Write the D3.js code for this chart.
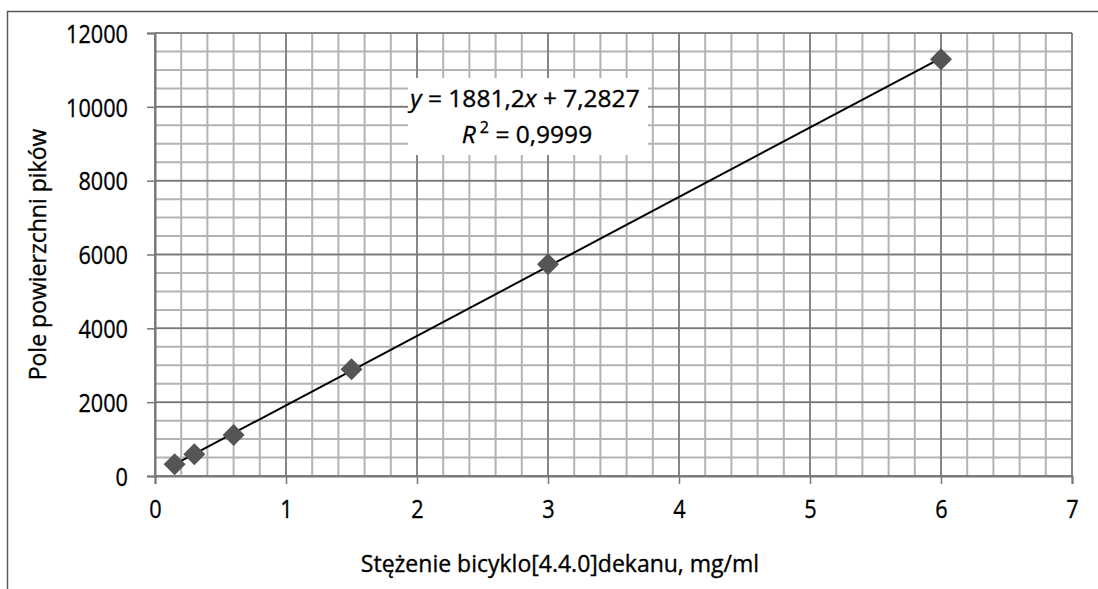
<!DOCTYPE html>
<html>
<head>
<meta charset="utf-8">
<script src="https://cdn.jsdelivr.net/npm/d3@7/dist/d3.min.js"></script>
<style>
  body { margin: 0; background: #fff; }
  svg { display: block; }
  text { font-family: "Open Sans", "Noto Sans", sans-serif; fill: #000; stroke: #000; stroke-width: 0.35px; }
</style>
</head>
<body>
<div id="chart"></div>
<script>

var width = 1098,
    height = 589;

// data
var concentration = [0.15, 0.3, 0.6, 1.5, 3, 6];
var peakArea = [317, 588, 1111, 2890, 5735, 11288];
var xTicks = [0, 1, 2, 3, 4, 5, 6, 7];
var yTicks = [0, 2000, 4000, 6000, 8000, 10000, 12000];
var xLabel = "Stężenie bicyklo[4.4.0]dekanu, mg/ml";
var yLabel = "Pole powierzchni pików";
var eqSlope = "1881,2", eqIntercept = "7,2827", eqR2 = "0,9999";

var margin = {left: 155, top: 33, right: 1072, bottom: 476};

var x = d3.scaleLinear().domain([0, 7]).range([margin.left, margin.right]);
var y = d3.scaleLinear().domain([0, 12000]).range([margin.bottom, margin.top]);

var svg = d3.select("#chart").append("svg")
    .attr("width", width)
    .attr("height", height);

// outer chart frame (runs off the right and bottom edges)
svg.append("rect")
    .attr("x", 7.5)
    .attr("y", 11.5)
    .attr("width", 1300)
    .attr("height", 900)
    .attr("fill", "none")
    .attr("stroke", "#595959")
    .attr("stroke-width", 1.5);

// minor grid
svg.append("g").selectAll("line")
    .data(x.ticks(35))
    .enter().append("line")
    .attr("x1", function(d){ return x(d); })
    .attr("x2", function(d){ return x(d); })
    .attr("y1", y(0))
    .attr("y2", y(12000))
    .attr("stroke", "#b3b3b3")
    .attr("stroke-width", 2);

svg.append("g").selectAll("line")
    .data(y.ticks(30))
    .enter().append("line")
    .attr("x1", x(0))
    .attr("x2", x(7))
    .attr("y1", function(d){ return y(d); })
    .attr("y2", function(d){ return y(d); })
    .attr("stroke", "#b3b3b3")
    .attr("stroke-width", 2);

// major grid
svg.append("g").selectAll("line")
    .data(xTicks)
    .enter().append("line")
    .attr("x1", function(d){ return x(d); })
    .attr("x2", function(d){ return x(d); })
    .attr("y1", y(0))
    .attr("y2", y(12000))
    .attr("stroke", "#777")
    .attr("stroke-width", 1.5);

svg.append("g").selectAll("line")
    .data(yTicks)
    .enter().append("line")
    .attr("x1", x(0))
    .attr("x2", x(7))
    .attr("y1", function(d){ return y(d); })
    .attr("y2", function(d){ return y(d); })
    .attr("stroke", "#777")
    .attr("stroke-width", 1.5);

// axes
var xAxis = d3.axisBottom(x)
    .tickValues(xTicks)
    .tickSize(8)
    .tickPadding(16)
    .tickFormat(d3.format("d"));

var yAxis = d3.axisLeft(y)
    .tickValues(yTicks)
    .tickSize(8)
    .tickPadding(18)
    .tickFormat(d3.format("d"));

var gx = svg.append("g")
    .attr("transform", "translate(0," + y(0) + ")")
    .call(xAxis);

var gy = svg.append("g")
    .attr("transform", "translate(" + x(0) + ",0)")
    .call(yAxis);

[gx, gy].forEach(function(g){
    g.select(".domain").attr("stroke", "#777").attr("stroke-width", 2);
    g.selectAll(".tick line").attr("stroke", "#777").attr("stroke-width", 1.5);
    g.selectAll(".tick text")
        .attr("font-size", 25.5)
        .attr("font-family", null)
        .attr("fill", "#000");
});
// the original face has narrow digits: squeeze them horizontally
gx.selectAll(".tick text").attr("transform", "scale(0.85,1)");
gy.selectAll(".tick text")
    .attr("x", 0)
    .attr("dy", "0.36em")
    .attr("transform", "translate(-27,0) scale(0.85,1)");

// trendline (least squares through the points)
var mx = d3.mean(concentration),
    my = d3.mean(peakArea);
var sxy = d3.sum(concentration, function(d, i){ return (d - mx) * (peakArea[i] - my); });
var sxx = d3.sum(concentration, function(d){ return (d - mx) * (d - mx); });
var slope = sxy / sxx,
    intercept = my - slope * mx;
var xExt = d3.extent(concentration);

svg.append("line")
    .attr("x1", x(xExt[0]))
    .attr("y1", y(slope * xExt[0] + intercept))
    .attr("x2", x(xExt[1]))
    .attr("y2", y(slope * xExt[1] + intercept))
    .attr("stroke", "#000")
    .attr("stroke-width", 2);

// markers
svg.append("g").selectAll("path")
    .data(concentration)
    .enter().append("path")
    .attr("d", "M0,-11L11,0L0,11L-11,0Z")
    .attr("transform", function(d, i){ return "translate(" + x(d) + "," + y(peakArea[i]) + ")"; })
    .attr("fill", "#555");

// equation label
var eq = svg.append("g");
eq.append("rect")
    .attr("x", 408)
    .attr("y", 78)
    .attr("width", 240)
    .attr("height", 77)
    .attr("fill", "#fff");

var t1 = eq.append("text")
    .attr("x", 525)
    .attr("y", 107)
    .attr("text-anchor", "middle")
    .attr("font-size", 24.5);
t1.append("tspan").attr("font-style", "italic").text("y");
t1.append("tspan").text(" = " + eqSlope);
t1.append("tspan").attr("font-style", "italic").text("x");
t1.append("tspan").text(" + " + eqIntercept);

var t2 = eq.append("text")
    .attr("x", 527)
    .attr("y", 143)
    .attr("text-anchor", "middle")
    .attr("font-size", 24.5);
t2.append("tspan").attr("font-style", "italic").text("R");
t2.append("tspan").attr("font-size", 16).attr("dy", -10).attr("dx", 4).text("2");
t2.append("tspan").attr("dy", 10).text(" = " + eqR2);

// axis titles
svg.append("text")
    .attr("x", 560)
    .attr("y", 572)
    .attr("text-anchor", "middle")
    .attr("font-size", 23)
    .text(xLabel);

svg.append("text")
    .attr("transform", "translate(46," + ((margin.top + margin.bottom) / 2) + ") rotate(-90)")
    .attr("text-anchor", "middle")
    .attr("font-size", 23)
    .text(yLabel);

</script>
</body>
</html>
